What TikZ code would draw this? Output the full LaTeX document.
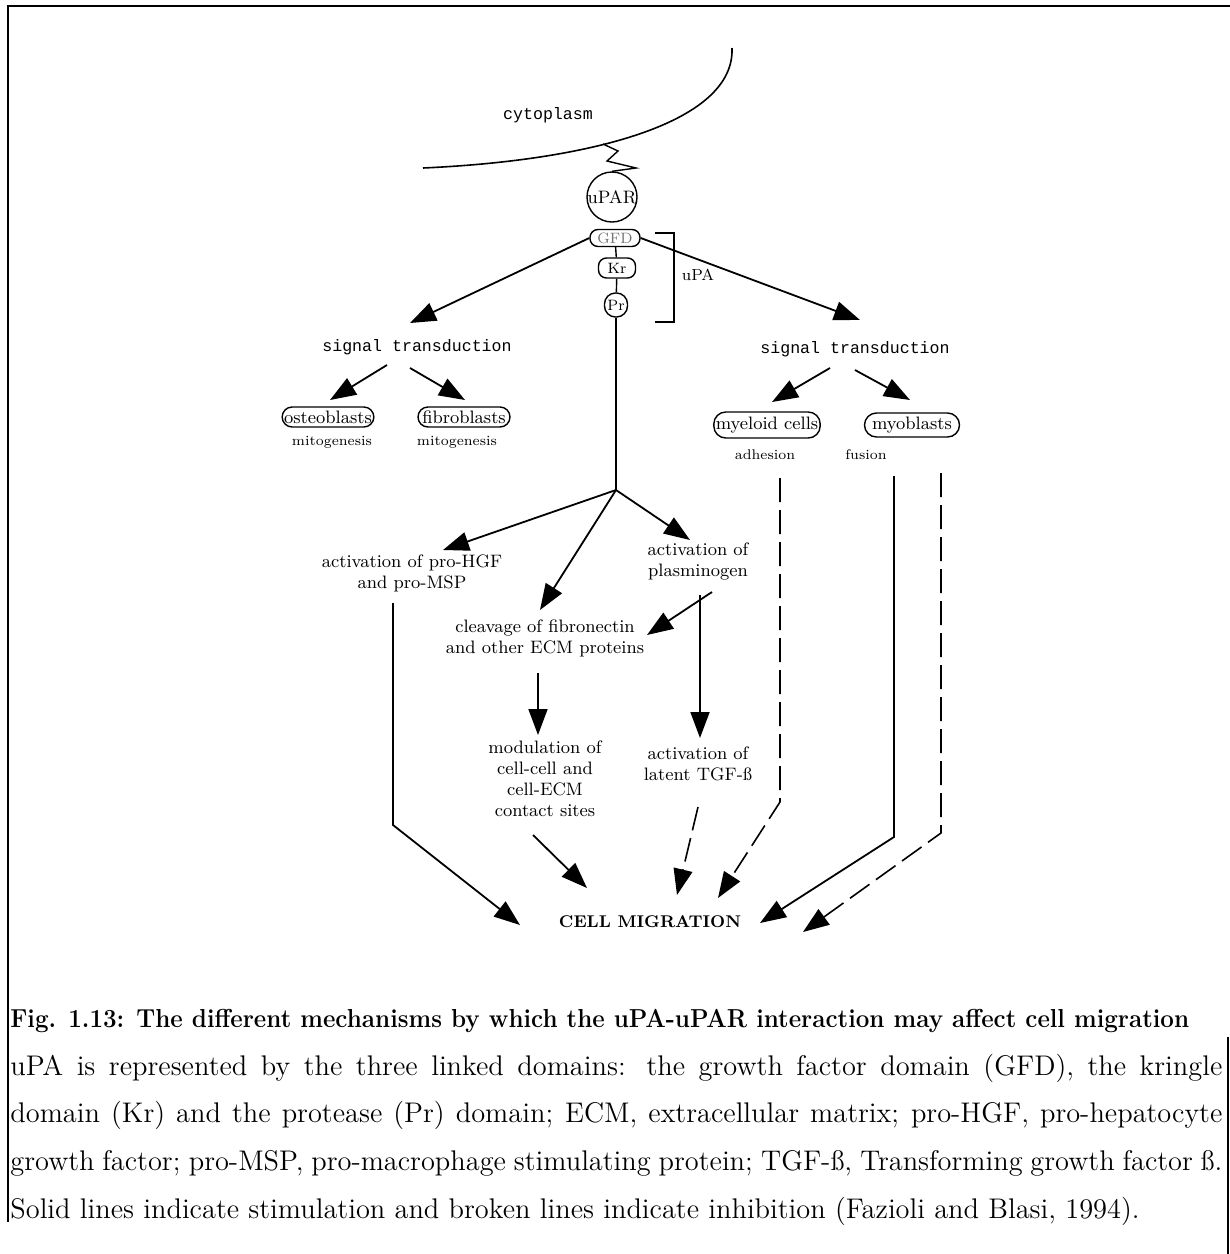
\documentclass[tikz,border=0pt]{standalone}
\usepackage{fontspec}
\newfontfamily\monofont{Liberation Mono}
\usetikzlibrary{arrows.meta}
\begin{document}
\begin{tikzpicture}[x=0.5pt,y=-0.5pt,
  lbl/.style={font=\fontsize{9}{10.5}\selectfont, align=center, inner sep=0pt},
  small/.style={font=\fontsize{7}{8}\selectfont, inner sep=0pt},
  mono/.style={font=\monofont\fontsize{8.3}{10}\selectfont, inner sep=0pt},
  cellbox/.style={draw, rounded corners=5pt, line width=0.7pt, inner sep=1pt, font=\fontsize{9}{10}\selectfont},
  dom/.style={draw, line width=0.7pt, inner sep=0pt, font=\fontsize{7.5}{8}\selectfont},
  conn/.style={line width=0.7pt},
  arr/.style={line width=0.9pt, -{Triangle[length=13pt,width=9.5pt]}},
  dsh/.style={line width=0.8pt, dash pattern=on 12pt off 4pt, -{Triangle[length=13pt,width=9.5pt]}},
  captxt/.style={anchor=base west, inner sep=0pt, font=\fontsize{14.2}{16}\selectfont},
  frameline/.style={line width=1pt}
]
\useasboundingbox (0,0) rectangle (1230,1254);
% frame
\draw[frameline] (1230,6) -- (8,6) -- (8,1222);
\draw[frameline] (1228,1037) -- (1228,1254);

% membrane and anchor
\draw[line width=0.8pt] (423,168) .. controls (600,160) and (735,120) .. (732,48);
\coordinate (zz0) at (603,144);
\node[mono] (cyto) at (548,115) {cytoplasm};

% receptor and uPA domains
\node[draw, circle, line width=0.7pt, minimum size=25pt, inner sep=0pt] (upar) at (612,197) {};
\node[font=\fontsize{9}{10}\selectfont, inner sep=0pt] (upartxt) at (612,197) {uPAR};
\draw[line width=0.7pt] (zz0) -- (618,151) -- (607,161) -- (636,168) -- (upar.north);
\node[dom, rounded corners=4pt, minimum width=25pt, minimum height=8.5pt, text=black!55] (gfd) at (615,238) {GFD};
\node[dom, rounded corners=4pt, minimum width=18.5pt, minimum height=10pt] (kr) at (617,268) {Kr};
\node[dom, rounded corners=5.5pt, minimum width=11.5pt, minimum height=12pt] (pr) at (616,305) {Pr};
\draw[conn] (gfd) -- (kr);
\draw[conn] (kr) -- (pr);
\draw[conn] (655,233) -- (674,233) -- (674,322) -- (655,322);
\node[font=\fontsize{8}{9}\selectfont, inner sep=0pt] (upa) at (698,275) {uPA};

% signal transduction branches
\coordinate (tipL) at (410,323);
\coordinate (tipR) at (860,320);
\draw[arr] (gfd.west) -- (tipL);
\draw[arr] (gfd.east) -- (tipR);
\node[mono] (sigL) at (417,347) {signal transduction};
\node[mono] (sigR) at (855,349) {signal transduction};

\coordinate (sl1) at (387,365); \coordinate (sl1t) at (330,400);
\coordinate (sl2) at (410,368); \coordinate (sl2t) at (465,400);
\coordinate (sr1) at (830,368); \coordinate (sr1t) at (772,402);
\coordinate (sr2) at (855,370); \coordinate (sr2t) at (910,400);
\draw[arr] (sl1) -- (sl1t);
\draw[arr] (sl2) -- (sl2t);
\draw[arr] (sr1) -- (sr1t);
\draw[arr] (sr2) -- (sr2t);

\node[cellbox, minimum width=45pt, minimum height=10pt] (osteo) at (328,417) {osteoblasts};
\node[cellbox, minimum width=46pt, minimum height=10pt] (fibro) at (464,417) {fibroblasts};
\node[cellbox, minimum width=52.5pt, minimum height=13pt, rounded corners=6pt] (myel) at (767,425) {myeloid cells};
\node[cellbox, minimum width=47.5pt, minimum height=12pt, rounded corners=6pt] (myob) at (912,425) {myoblasts};
\node[small] (mitoA) at (332,442) {mitogenesis};
\node[small] (mitoB) at (457,442) {mitogenesis};
\node[small] (adh) at (765,455) {adhesion};
\node[small] (fus) at (866,455) {fusion};

% protease branch
\coordinate (br) at (616,490);
\draw[conn] (pr) -- (br);
\coordinate (hgft) at (443,550);
\coordinate (clvt) at (540,610);
\coordinate (plst) at (690,540);
\draw[arr] (br) -- (hgft);
\draw[arr] (br) -- (clvt);
\draw[arr] (br) -- (plst);

\node[lbl] (hgf) at (412,573) {activation of pro-HGF\\and pro-MSP};
\node[lbl] (plas) at (698,562) {activation of\\plasminogen};
\node[lbl] (cleav) at (545,638) {cleavage of fibronectin\\and other ECM proteins};
\node[lbl] (modul) at (545,779) {modulation of\\cell-cell and\\cell-ECM\\contact sites};
\node[lbl] (tgf) at (698,764) {activation of\\latent TGF-ß};
\node[font=\fontsize{8.5}{10}\selectfont\bfseries, inner sep=0pt] (mig) at (650,922) {CELL MIGRATION};

\coordinate (pc0) at (712,592); \coordinate (pct) at (647,635);
\draw[arr] (pc0) -- (pct);

\coordinate (h0) at (393,603); \coordinate (h1) at (393,825); \coordinate (ht) at (520,925);
\draw[arr] (h0) -- (h1) -- (ht);

\coordinate (c0) at (538,673); \coordinate (ct) at (538,735);
\draw[arr] (c0) -- (ct);

\coordinate (p0) at (700,595); \coordinate (pt) at (700,738);
\draw[arr] (p0) -- (pt);

\coordinate (m0) at (533,835); \coordinate (mt) at (587,888);
\draw[arr] (m0) -- (mt);

\coordinate (t0) at (698,807); \coordinate (tt) at (677,895);
\draw[dsh] (t0) -- (tt);

\coordinate (y0) at (780,478); \coordinate (y1) at (780,802); \coordinate (yt) at (718,898);
\draw[dsh] (y0) -- (y1) -- (yt);

\coordinate (b0) at (894,476); \coordinate (b1) at (894,837); \coordinate (bt) at (760,923);
\draw[arr] (b0) -- (b1) -- (bt);

\coordinate (f0) at (941,473); \coordinate (f1) at (941,833); \coordinate (ft) at (803,932);
\draw[dsh] (f0) -- (f1) -- (ft);

% caption
\node[captxt] (cap0) at (10,1027) {\scalebox{0.93}[1]{\fontsize{13}{15}\selectfont\bfseries Fig. 1.13: The different mechanisms by which the uPA-uPAR interaction may affect cell migration}};
\node[captxt] (cap1) at (10,1075) {\makebox[606pt][s]{uPA is represented by the three linked domains: the growth factor domain (GFD), the kringle}};
\node[captxt] (cap2) at (10,1122) {\makebox[606pt][s]{domain (Kr) and the protease (Pr) domain; ECM, extracellular matrix; pro-HGF, pro-hepatocyte}};
\node[captxt] (cap3) at (10,1170) {\makebox[606pt][s]{growth factor; pro-MSP, pro-macrophage stimulating protein; TGF-ß, Transforming growth factor ß.}};
\node[captxt] (cap4) at (10,1218) {Solid lines indicate stimulation and broken lines indicate inhibition (Fazioli and Blasi, 1994).};
\end{tikzpicture}
\end{document}
